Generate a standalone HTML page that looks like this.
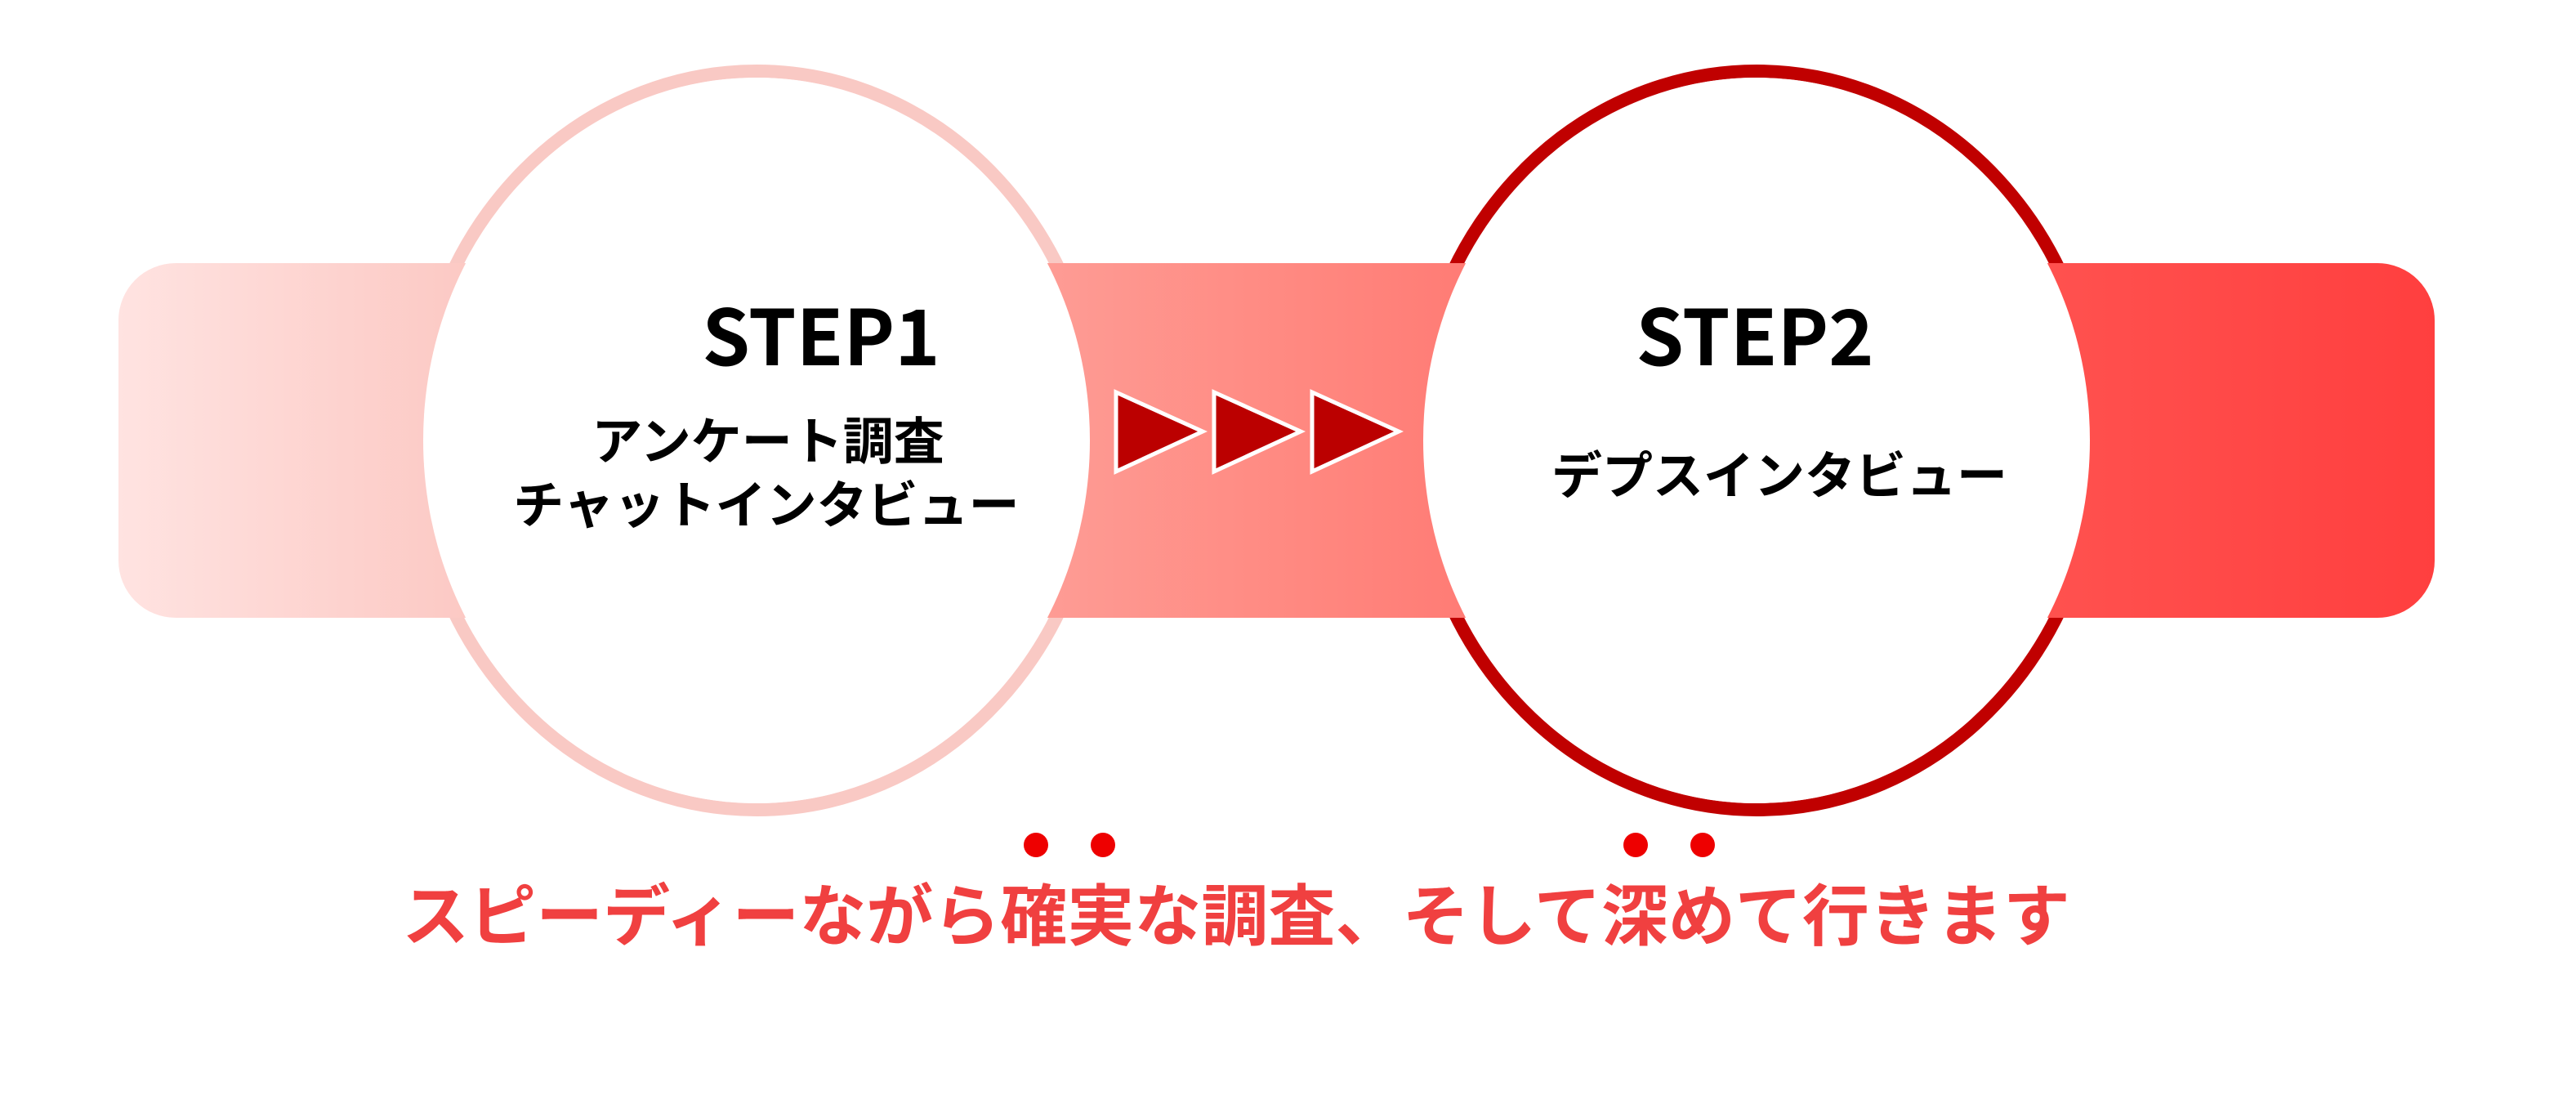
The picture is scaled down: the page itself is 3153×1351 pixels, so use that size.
<!DOCTYPE html>
<html><head><meta charset="utf-8"><style>
html,body{margin:0;padding:0;background:#fff;}
svg{display:block;}
</style></head><body>
<svg width="3153" height="1351" viewBox="0 0 3153 1351" xmlns="http://www.w3.org/2000/svg">
<defs>
<linearGradient id="g" x1="145" y1="0" x2="2980" y2="0" gradientUnits="userSpaceOnUse">
<stop offset="0" stop-color="#ffe3e1"/>
<stop offset="0.15" stop-color="#fcc9c4"/>
<stop offset="0.5" stop-color="#ff8a82"/>
<stop offset="0.8" stop-color="#ff5552"/>
<stop offset="1" stop-color="#ff3f3f"/>
</linearGradient>
</defs>
<ellipse cx="926" cy="539" rx="418" ry="452" fill="#fff" stroke="#f9c9c4" stroke-width="16"/>
<ellipse cx="2150" cy="539" rx="418" ry="452" fill="#fff" stroke="#c00000" stroke-width="16"/>
<rect x="145" y="322" width="2835" height="434" rx="70" ry="70" fill="url(#g)"/>
<ellipse cx="926" cy="539" rx="408" ry="444" fill="#fff"/>
<ellipse cx="2150" cy="539" rx="408" ry="444" fill="#fff"/>
<g fill="#bb0000" stroke="#fff" stroke-width="5">
<polygon points="1366,480 1472,528 1366,577"/>
<polygon points="1486,480 1592,528 1486,577"/>
<polygon points="1606,480 1712,528 1606,577"/>
</g>
<g font-family="'Noto Sans CJK JP',sans-serif" font-weight="700" fill="#000" text-anchor="middle">
<text x="1005" y="447" font-size="94">STEP1</text>
<text x="940" y="562" font-size="62">アンケート調査</text>
<text x="938" y="640" font-size="62">チャットインタビュー</text>
<text x="2148" y="447" font-size="94">STEP2</text>
<text x="2178" y="604" font-size="62">デプスインタビュー</text>
</g>
<g fill="#ee0000">
<circle cx="1268" cy="1034" r="15"/><circle cx="1350" cy="1034" r="15"/>
<circle cx="2002" cy="1034" r="15"/><circle cx="2084" cy="1034" r="15"/>
</g>
<text x="1513" y="1150" font-family="'Noto Sans CJK JP',sans-serif" font-weight="700" font-size="82" fill="#f04040" text-anchor="middle">スピーディーながら確実な調査、そして深めて行きます</text>
</svg>
</body></html>
